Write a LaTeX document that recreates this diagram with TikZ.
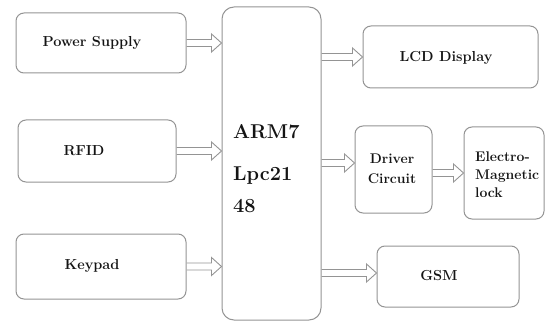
\documentclass[tikz,border=0pt]{standalone}
\usetikzlibrary{calc}
\begin{document}
\begin{tikzpicture}[x=1pt,y=-1pt,
  blk/.style={draw=black!42, line width=1pt, rounded corners=8pt, inner sep=0pt},
  lbl/.style={font=\fontsize{14.5}{18}\selectfont\bfseries, inner sep=0pt, text=black!92},
  big/.style={font=\fontsize{20}{24}\selectfont\bfseries, anchor=base west, inner sep=0pt, text=black!92},
  harrow/.style={draw=black!42, line width=0.9pt, line join=miter,
    to path={let \p1=(\tikztostart), \p2=(\tikztotarget) in
      (\x1,\y1+3.5pt) -- (\x2-10pt,\y1+3.5pt) -- (\x2-10pt,\y1+9pt) -- (\x2,\y1)
      -- (\x2-10pt,\y1-9pt) -- (\x2-10pt,\y1-3.5pt) -- (\x1,\y1-3.5pt)}}
]
\useasboundingbox (0,0) rectangle (545,323);
% boxes
\node[blk, minimum width=170pt, minimum height=60pt] (ps) at (101,43) {};
\node[blk, minimum width=158pt, minimum height=62pt] (rfid) at (97,151) {};
\node[blk, minimum width=170pt, minimum height=65pt] (kp) at (101,266.5) {};
\node[blk, rounded corners=12pt, minimum width=99pt, minimum height=313pt] (arm) at (271.5,163.5) {};
\node[blk, minimum width=175pt, minimum height=62pt] (lcd) at (450.5,57) {};
\node[blk, minimum width=77pt, minimum height=87pt] (drv) at (393.5,169.5) {};
\node[blk, minimum width=80pt, minimum height=92pt] (eml) at (504,173) {};
\node[blk, minimum width=142pt, minimum height=61pt] (gsm) at (448,276.5) {};
% texts
\node[lbl] (tps) at (92,43) {Power Supply};
\node[lbl] (trfid) at (84,151) {RFID};
\node[lbl] (tkp) at (92,266) {Keypad};
\node[lbl] (tlcd) at (446,58) {LCD Display};
\node[lbl, align=center, font=\fontsize{14}{20}\selectfont\bfseries] (tdrv) at (392,169) {Driver\\Circuit};
\node[lbl, align=left, anchor=west, font=\fontsize{14}{18}\selectfont\bfseries] (teml) at (475,175) {Electro-\\Magnetic\\lock};
\node[lbl] (tgsm) at (439,276) {GSM};
\node[big] (t1) at (233,139) {ARM7};
\node[big] (t2) at (233,180) {Lpc21};
\node[big] (t3) at (233,212) {48};
% arrows
\path[harrow] (ps.east) to (ps.east -| arm.west);
\path[harrow] (rfid.east) to (rfid.east -| arm.west);
\path[harrow] (kp.east) to (kp.east -| arm.west);
\path[harrow] (arm.east |- lcd.west) to (lcd.west);
\coordinate (dy) at (0,163);
\path[harrow] (arm.east |- dy) to (drv.west |- dy);
\path[harrow] (drv.east |- eml.west) to (eml.west);
\coordinate (gy) at (0,273);
\path[harrow] (arm.east |- gy) to (gsm.west |- gy);
\end{tikzpicture}
\end{document}
